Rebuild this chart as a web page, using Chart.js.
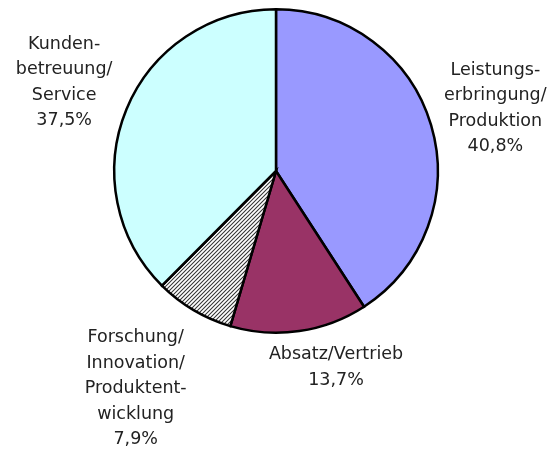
<!DOCTYPE html>
<html lang="de">
<head>
<meta charset="utf-8">
<script src="https://cdn.jsdelivr.net/npm/chart.js@4"></script>
<style>
  html, body { margin: 0; padding: 0; background: #fff; }
  #wrap { width: 550px; height: 455px; }
</style>
</head>
<body>
<div id="wrap"><canvas id="pie" width="550" height="455"></canvas></div>
<script>
/* ================== DATEN ================== */
const categories = [
  ["Leistungs-", "erbringung/", "Produktion"],
  ["Absatz/Vertrieb"],
  ["Forschung/", "Innovation/", "Produktent-", "wicklung"],
  ["Kunden-", "betreuung/", "Service"]
];
const shares = [40.8, 13.7, 7.9, 37.5];
const shareLabels = ["40,8%", "13,7%", "7,9%", "37,5%"];

/* ================== STIL ================== */
const FONT = '17.5px "DejaVu Sans", sans-serif';
const LINE_H = 25.5;
// Lage der Beschriftung: Winkelversatz (Grad) + Abstand als Vielfaches des Radius
const labelPlace = [
  { dAng: 0.6, k: 1.41 },
  { dAng: -8.7, k: 1.27 },
  { dAng: 2.2, k: 1.6 },
  { dAng: 0.3, k: 1.42 }
];

function hatchPattern() {
  const c = document.createElement("canvas");
  c.width = 4; c.height = 4;
  const g = c.getContext("2d");
  g.fillStyle = "#fff";
  g.fillRect(0, 0, 4, 4);
  g.strokeStyle = "#333";
  g.lineWidth = 1.05;
  g.beginPath();
  g.moveTo(-1, 5); g.lineTo(5, -1);
  g.moveTo(-1, 1); g.lineTo(1, -1);
  g.moveTo(3, 5); g.lineTo(5, 3);
  g.stroke();
  return g.createPattern(c, "repeat");
}

const ctx = document.getElementById("pie").getContext("2d");
const colors = ["#9999FF", "#993366", hatchPattern(), "#CCFFFF"];

/* ================== BESCHRIFTUNG ================== */
const outsideLabels = {
  id: "outsideLabels",
  afterDraw(chart) {
    const c = chart.ctx;
    const arcs = chart.getDatasetMeta(0).data;
    c.save();
    c.font = FONT;
    c.fillStyle = "#222";
    c.textAlign = "center";
    c.textBaseline = "middle";
    arcs.forEach((arc, i) => {
      const p = labelPlace[i];
      const mid = (arc.startAngle + arc.endAngle) / 2 + p.dAng * Math.PI / 180;
      const r = arc.outerRadius * p.k;
      const x = arc.x + Math.cos(mid) * r;
      const y = arc.y + Math.sin(mid) * r;
      const lines = [...categories[i], shareLabels[i]];
      const top = y - (lines.length - 1) * LINE_H / 2;
      lines.forEach((t, j) => c.fillText(t, x, top + j * LINE_H));
    });
    c.restore();
  }
};

new Chart(ctx, {
  type: "pie",
  data: {
    labels: categories.map(l => l.join(" ")),
    datasets: [{
      data: shares,
      backgroundColor: colors,
      borderColor: "#000",
      borderWidth: 2.5,
      borderJoinStyle: "miter"
    }]
  },
  options: {
    responsive: false,
    animation: false,
    rotation: 0,
    layout: { padding: { left: 113, right: 111, top: 8, bottom: 121 } },
    plugins: { legend: { display: false }, tooltip: { enabled: false } }
  },
  plugins: [outsideLabels]
});
</script>
</body>
</html>
